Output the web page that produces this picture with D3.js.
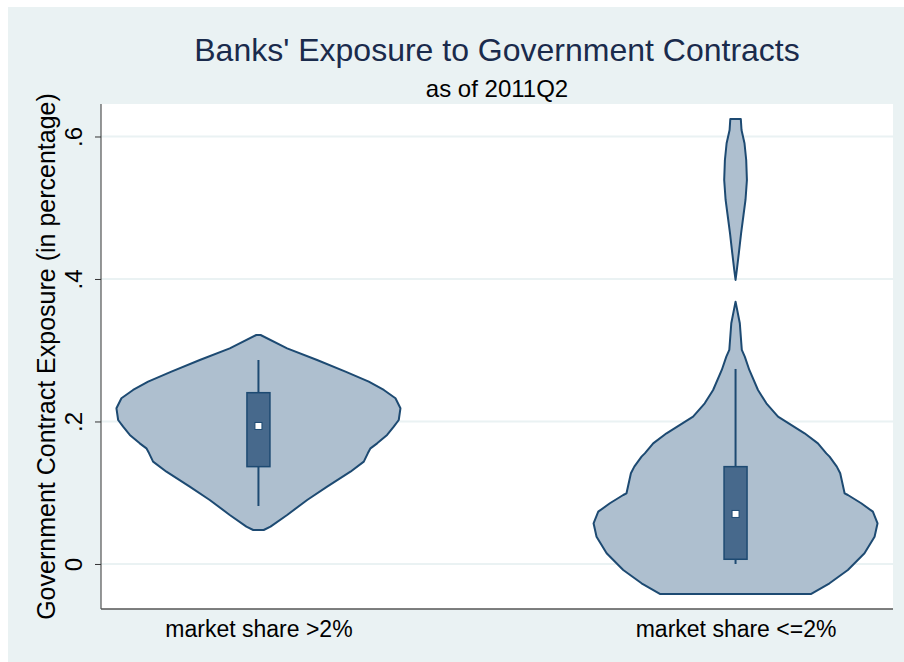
<!DOCTYPE html>
<html>
<head>
<meta charset="utf-8">
<script src="https://cdnjs.cloudflare.com/ajax/libs/d3/7.8.5/d3.min.js"></script>
<style>
  body { margin: 0; background: #fff; }
  text { font-family: "Liberation Sans", Arial, sans-serif; }
</style>
</head>
<body>
<div id="chart"></div>
<script>
// categories and tick labels
const groups = ["market share >2%", "market share <=2%"];
const yTicks = [0, 0.2, 0.4, 0.6];
const yTickLabels = ["0", ".2", ".4", ".6"];

// kernel density outlines, [value, relative density]
const densGt2 = [
  [0.3214, 0.015], [0.3027, 0.202], [0.2863, 0.413], [0.2699, 0.613],
  [0.2559, 0.777], [0.2442, 0.883], [0.2326, 0.965], [0.2185, 1.0],
  [0.2021, 0.988], [0.1927, 0.953], [0.1811, 0.906], [0.1693, 0.836],
  [0.1623, 0.789], [0.1553, 0.770], [0.1436, 0.742], [0.1295, 0.648],
  [0.1085, 0.484], [0.0898, 0.343], [0.0688, 0.202], [0.0524, 0.085],
  [0.0477, 0.037]
];
const densLe2 = [
  [0.6246, 0.037], [0.6091, 0.042], [0.5905, 0.063], [0.5670, 0.075],
  [0.5389, 0.080], [0.5109, 0.070], [0.4898, 0.056], [0.4641, 0.039],
  [0.4361, 0.023], [0.4126, 0.009], [0.3986, 0],
  [0.3682, 0], [0.3378, 0.030], [0.3004, 0.044], [0.2910, 0.065],
  [0.2723, 0.097], [0.2442, 0.158], [0.2255, 0.217], [0.2068, 0.299],
  [0.1834, 0.486], [0.1693, 0.580], [0.1553, 0.639], [0.1506, 0.662],
  [0.1366, 0.713], [0.1273, 0.737], [0.0992, 0.768], [0.0968, 0.791],
  [0.0852, 0.885], [0.0734, 0.967], [0.0571, 1.0], [0.0383, 0.979],
  [0.0150, 0.908], [-0.0084, 0.791], [-0.0271, 0.662], [-0.0421, 0.533]
];
const densities = [densGt2, densLe2];

// box stats: lower whisker, q1, median, q3, upper whisker
const boxLo = [0.0814, 0.0000];
const boxQ1 = [0.1366, 0.0066];
const boxMed = [0.1937, 0.0702];
const boxQ3 = [0.2404, 0.1366];
const boxHi = [0.2863, 0.2737];

const width = 904, height = 662;
const plot = {left: 101, right: 893, top: 104, bottom: 609};
const navy = "#1d4a72";
const violinFill = "#aebfcf";
const boxFill = "#47698c";
const bgColor = "#eaf2f3";

const svg = d3.select("#chart").append("svg")
  .attr("width", width).attr("height", height);

svg.append("rect")
  .attr("x", 8).attr("y", 7)
  .attr("width", width - 8).attr("height", height - 7)
  .attr("fill", bgColor);

svg.append("rect")
  .attr("x", plot.left).attr("y", plot.top)
  .attr("width", plot.right - plot.left).attr("height", plot.bottom - plot.top)
  .attr("fill", "#fff");

const x = d3.scalePoint().domain(groups).range([plot.left, plot.right]).padding(0.33);
const y = d3.scaleLinear().domain([-0.0632, 0.6456]).range([plot.bottom, plot.top]);
const w = d3.scaleLinear().domain([0, 1]).range([0, 142]);

// gridlines
svg.append("g").selectAll("line")
  .data(yTicks)
  .join("line")
  .attr("x1", plot.left).attr("x2", plot.right)
  .attr("y1", d => y(d)).attr("y2", d => y(d))
  .attr("stroke", bgColor).attr("stroke-width", 2);

// violins, split where the density drops to zero
function segments(pts) {
  const out = [];
  let cur = [];
  pts.forEach((p, i) => {
    cur.push(p);
    const next = pts[i + 1];
    if (next && p[1] === 0 && next[1] === 0) { out.push(cur); cur = []; }
  });
  if (cur.length) out.push(cur);
  return out;
}

groups.forEach((g, i) => {
  const cx = x(g);
  const area = d3.area()
    .y(d => y(d[0]))
    .x0(d => cx - w(d[1]))
    .x1(d => cx + w(d[1]))
    .curve(d3.curveLinear);
  segments(densities[i]).forEach(seg => {
    svg.append("path")
      .datum(seg)
      .attr("d", area)
      .attr("fill", violinFill)
      .attr("stroke", navy)
      .attr("stroke-width", 2)
      .attr("stroke-linejoin", "round");
  });

  // whiskers
  svg.append("line")
    .attr("x1", cx).attr("x2", cx)
    .attr("y1", y(boxHi[i])).attr("y2", y(boxLo[i]))
    .attr("stroke", navy).attr("stroke-width", 2);
  // box
  svg.append("rect")
    .attr("x", cx - 11.5).attr("width", 23)
    .attr("y", y(boxQ3[i])).attr("height", y(boxQ1[i]) - y(boxQ3[i]))
    .attr("fill", boxFill).attr("stroke", navy).attr("stroke-width", 1.5);
  // median marker
  svg.append("rect")
    .attr("x", cx - 3.5).attr("y", y(boxMed[i]) - 3.5)
    .attr("width", 7).attr("height", 7)
    .attr("fill", "#fff").attr("stroke", navy).attr("stroke-width", 1);
});

// axes
const yAxis = d3.axisLeft(y).tickValues(yTicks).tickSize(6).tickPadding(10)
  .tickFormat((d, i) => yTickLabels[i]);
const gy = svg.append("g")
  .attr("transform", `translate(${plot.left},0)`)
  .call(yAxis);
gy.select(".domain").attr("d", `M0,${plot.top}V${plot.bottom}`).attr("stroke", "#333");
gy.selectAll(".tick line").attr("stroke", "#333");
gy.selectAll(".tick text")
  .attr("font-size", 24).attr("fill", "#000")
  .attr("text-anchor", "middle").attr("dy", 0)
  .attr("transform", "translate(-19,0) rotate(-90)")
  .attr("x", 0).attr("y", 0);

const xAxis = d3.axisBottom(x).tickSize(0).tickPadding(12);
const gx = svg.append("g")
  .attr("transform", `translate(0,${plot.bottom})`)
  .call(xAxis);
gx.select(".domain").attr("d", `M${plot.left},0H${plot.right}`).attr("stroke", "#555").attr("stroke-width", 1.5);
gx.selectAll(".tick text").attr("font-size", 23).attr("fill", "#000");

// titles
svg.append("text")
  .attr("x", (plot.left + plot.right) / 2).attr("y", 61)
  .attr("text-anchor", "middle").attr("font-size", 32).attr("fill", "#1a2b4c")
  .text("Banks' Exposure to Government Contracts");
svg.append("text")
  .attr("x", (plot.left + plot.right) / 2).attr("y", 97)
  .attr("text-anchor", "middle").attr("font-size", 24).attr("fill", "#000")
  .text("as of 2011Q2");
svg.append("text")
  .attr("transform", `translate(55,${(plot.top + plot.bottom) / 2}) rotate(-90)`)
  .attr("text-anchor", "middle").attr("font-size", 25).attr("fill", "#000")
  .text("Government Contract Exposure (in percentage)");
</script>
</body>
</html>
